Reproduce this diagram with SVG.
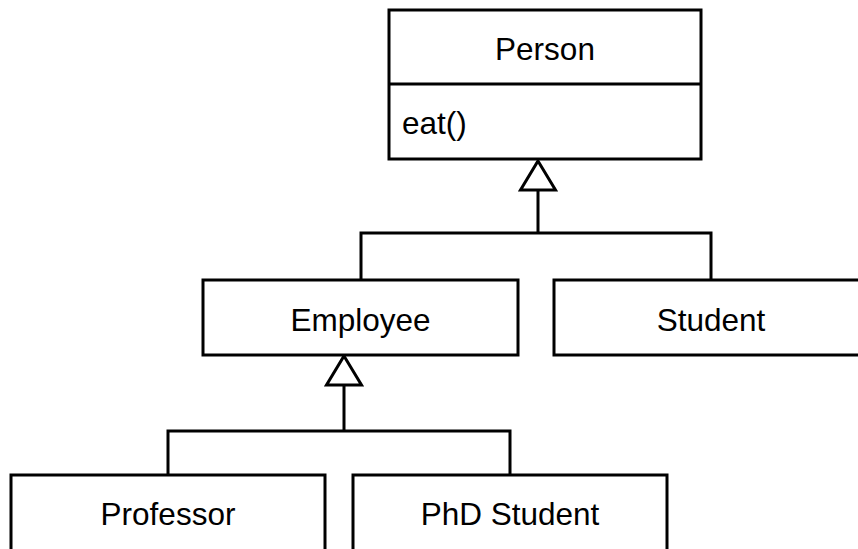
<svg xmlns="http://www.w3.org/2000/svg" width="858" height="549" viewBox="0 0 858 549">
<style>
.box{fill:#fff;stroke:#000;stroke-width:3}
.ln{fill:none;stroke:#000;stroke-width:3}
.tri{fill:#fff;stroke:#000;stroke-width:3;stroke-linejoin:miter}
text{font-family:"Liberation Sans",Arial,sans-serif;font-size:31.5px;fill:#000}
.c{text-anchor:middle}
</style>
<rect width="858" height="549" fill="#fff"/>
<g id="connectors">
<path class="ln" d="M538 190V233M361 280V233H711V280"/>
<polygon class="tri" points="538,161 555.5,190 520.5,190"/>
<path class="ln" d="M344 384V431M168 475V431H510V475"/>
<polygon class="tri" points="344,356 361.5,385 326.5,385"/>
</g>
<g id="person">
<rect class="box" x="389" y="10" width="312" height="149"/>
<line class="ln" x1="389" y1="84" x2="701" y2="84"/>
<text class="c" x="545" y="59.5">Person</text>
<text x="402" y="134">eat()</text>
</g>
<g id="employee">
<rect class="box" x="203" y="280" width="315" height="75"/>
<text class="c" x="360.5" y="330.5">Employee</text>
</g>
<g id="student">
<rect class="box" x="554" y="280" width="314" height="75"/>
<text class="c" x="711" y="330.5">Student</text>
</g>
<g id="professor">
<rect class="box" x="11" y="475" width="314" height="78"/>
<text class="c" x="168" y="525">Professor</text>
</g>
<g id="phd">
<rect class="box" x="353" y="475" width="314" height="78"/>
<text class="c" x="510" y="525">PhD Student</text>
</g>
</svg>
